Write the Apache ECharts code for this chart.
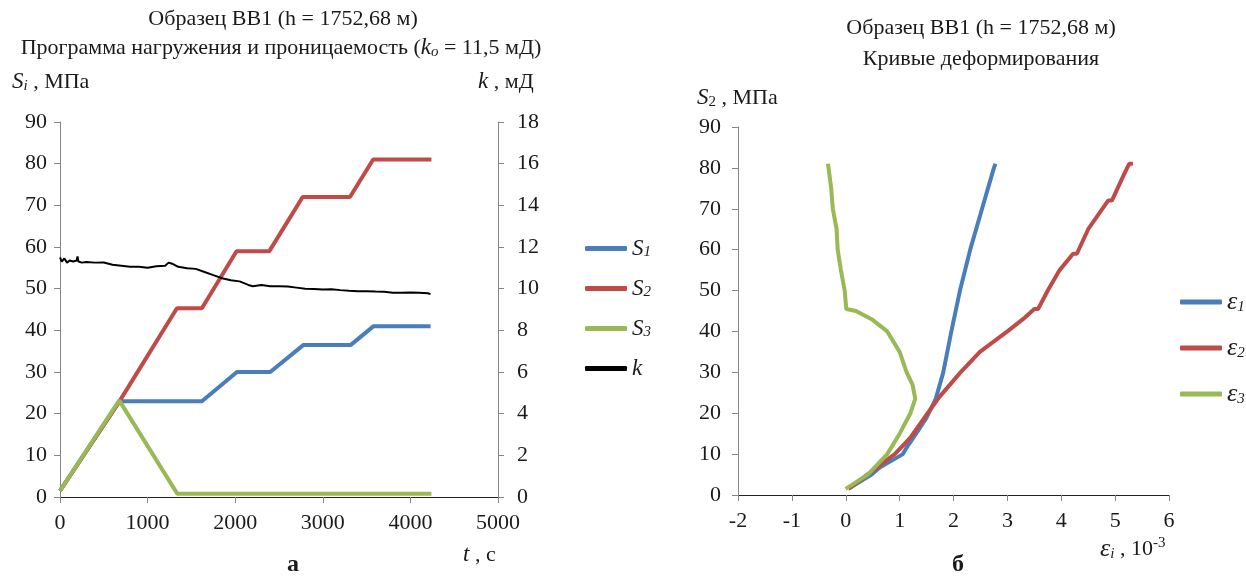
<!DOCTYPE html>
<html><head><meta charset="utf-8">
<script src="https://cdn.jsdelivr.net/npm/echarts@6/dist/echarts.min.js"></script>
<style>html,body{margin:0;padding:0;background:#fff}#c{width:1246px;height:578px}</style>
</head><body><div id="c"></div>
<script>
// ---- Left chart: loading program & permeability ----
const s1Time = [0, 680, 1620, 2020, 2400, 2780, 3320, 3580, 4230];
const s1Value = [1.5, 23, 23, 30, 30, 36.5, 36.5, 41, 41];
const s2Time = [0, 680, 1335, 1620, 2015, 2390, 2770, 3310, 3575, 4240];
const s2Value = [1.5, 23, 45.3, 45.3, 59, 59, 72, 72, 81, 81];
const s3Time = [0, 676, 1338, 4240];
const s3Value = [1.5, 23.2, 0.8, 0.8];
const kTime = [0, 20, 50, 80, 110, 150, 190, 200, 210, 250, 300, 400, 500, 600, 700, 800, 900, 1000, 1100, 1200, 1240, 1280, 1350, 1450, 1550, 1650, 1750, 1850, 1950, 2050, 2150, 2200, 2300, 2400, 2500, 2600, 2700, 2800, 2900, 3000, 3100, 3200, 3300, 3400, 3500, 3600, 3700, 3800, 3900, 4000, 4100, 4200, 4230];
const kValue = [11.5, 11.3, 11.45, 11.25, 11.35, 11.3, 11.35, 11.55, 11.3, 11.25, 11.28, 11.25, 11.26, 11.15, 11.1, 11.05, 11.05, 11.0, 11.08, 11.1, 11.25, 11.2, 11.05, 10.98, 10.95, 10.8, 10.65, 10.5, 10.4, 10.35, 10.18, 10.12, 10.18, 10.12, 10.12, 10.1, 10.05, 10.0, 9.98, 9.96, 9.97, 9.93, 9.9, 9.88, 9.88, 9.86, 9.85, 9.8, 9.8, 9.82, 9.8, 9.78, 9.74];
// ---- Right chart: deformation curves (strain in 1e-3 vs S2 in MPa) ----
const e1Strain = [0.05, 0.19, 0.48, 0.63, 1.06, 1.13, 1.34, 1.5, 1.67, 1.81, 1.96, 2.12, 2.31, 2.53, 2.75, 2.78];
const e1Stress = [1.5, 2.7, 5, 6.7, 10, 11.6, 15.7, 18.9, 23.5, 30, 40, 50, 60, 70, 80, 81];
const e2Strain = [0.05, 0.4, 0.91, 1.2, 1.52, 1.74, 2.13, 2.49, 3.0, 3.29, 3.5, 3.57, 3.75, 3.97, 4.22, 4.29, 4.5, 4.87, 4.94, 5.15, 5.26, 5.33];
const e2Stress = [1.5, 5, 10, 14, 20, 24, 30, 35, 40, 43, 45.5, 45.5, 50, 55, 59, 59, 65, 72, 72, 78, 81, 81];
const e3Strain = [0, 0.41, 0.77, 1.0, 1.2, 1.29, 1.24, 1.13, 1.0, 0.77, 0.48, 0.19, 0.01, -0.02, -0.09, -0.15, -0.17, -0.24, -0.27, -0.33];
const e3Stress = [1.5, 5, 10, 15, 20, 23.5, 27, 30, 35, 40, 43, 45, 45.5, 50, 55, 60, 65, 70, 75, 81];

const zip = (a, b) => a.map((v, i) => [v, b[i]]);
const FONT = 'Liberation Serif';
const TXT = '#1a1a1a';
const AX = '#868686';
const BLUE = '#4a7ebb', RED = '#be4b48', GREEN = '#98b954';

function axis(extra, margin, lineColor) {
  return Object.assign({
    type: 'value',
    axisLine: {show: true, onZero: false, lineStyle: {color: lineColor || AX, width: 1}},
    axisTick: {show: true, inside: false, length: 6, lineStyle: {color: AX}},
    splitLine: {show: false},
    axisLabel: {fontFamily: FONT, fontSize: 22, color: TXT, margin: margin, formatter: v => String(v)}
  }, extra);
}

const richBase = {
  n: {fontFamily: FONT, fontSize: 22, color: TXT},
  it: {fontFamily: FONT, fontSize: 23, fontStyle: 'italic', color: TXT},
  sub: {fontFamily: FONT, fontSize: 15, fontStyle: 'italic', color: TXT, verticalAlign: 'bottom', padding: [9, 0, 0, 0]},
  subn: {fontFamily: FONT, fontSize: 15, color: TXT, verticalAlign: 'bottom', padding: [9, 0, 0, 0]},
  sup: {fontFamily: FONT, fontSize: 15, color: TXT, verticalAlign: 'top', padding: [0, 0, 9, 0]},
  b: {fontFamily: FONT, fontSize: 24, fontWeight: 'bold', color: TXT},
  eps: {fontFamily: FONT, fontSize: 26, fontStyle: 'italic', color: TXT}
};

function txt(x, y, text, align) {
  return {type: 'text', x: x, y: y, style: {text: text, rich: richBase, align: align || 'left', verticalAlign: 'middle', font: '22px ' + FONT, fill: TXT}};
}

const legendNames = {
  S1: '{it|S}{sub|1}', S2: '{it|S}{sub|2}', S3: '{it|S}{sub|3}', k: '{it|k}',
  e1: '{eps|ε}{sub|1}', e2: '{eps|ε}{sub|2}', e3: '{eps|ε}{sub|3}'
};

const chart = echarts.init(document.getElementById('c'), null, {renderer: 'canvas'});
chart.setOption({
  backgroundColor: '#fff',
  animation: false,
  grid: [
    {left: 60, top: 122, width: 438, height: 375},
    {left: 738, top: 127, width: 431, height: 368}
  ],
  xAxis: [
    axis({gridIndex: 0, min: 0, max: 5000, interval: 1000}, 15, '#222'),
    axis({gridIndex: 1, min: -2, max: 6, interval: 1}, 15, '#222')
  ],
  yAxis: [
    axis({gridIndex: 0, min: 0, max: 90, interval: 10}, 13),
    axis({gridIndex: 0, position: 'right', min: 0, max: 18, interval: 2}, 19),
    axis({gridIndex: 1, min: 0, max: 90, interval: 10}, 17)
  ],
  legend: [
    {data: ['S1', 'S2', 'S3', 'k'], orient: 'vertical', left: 580, top: 232, icon: 'roundRect', itemWidth: 42, itemHeight: 5, itemGap: 17,
     formatter: n => legendNames[n], textStyle: {rich: richBase, lineHeight: 22}},
    {data: ['e1', 'e2', 'e3'], orient: 'vertical', left: 1175, top: 284, icon: 'roundRect', itemWidth: 42, itemHeight: 5, itemGap: 20,
     formatter: n => legendNames[n], textStyle: {rich: richBase, lineHeight: 26}}
  ],
  series: [
    {name: 'S1', type: 'line', xAxisIndex: 0, yAxisIndex: 0, data: zip(s1Time, s1Value), symbol: 'none', lineStyle: {color: BLUE, width: 4}, itemStyle: {color: BLUE}},
    {name: 'S2', type: 'line', xAxisIndex: 0, yAxisIndex: 0, data: zip(s2Time, s2Value), symbol: 'none', lineStyle: {color: RED, width: 4}, itemStyle: {color: RED}},
    {name: 'S3', type: 'line', xAxisIndex: 0, yAxisIndex: 0, data: zip(s3Time, s3Value), symbol: 'none', lineStyle: {color: GREEN, width: 4}, itemStyle: {color: GREEN}},
    {name: 'k', type: 'line', xAxisIndex: 0, yAxisIndex: 1, data: zip(kTime, kValue), symbol: 'none', lineStyle: {color: '#000', width: 2}, itemStyle: {color: '#000'}},
    {name: 'e1', type: 'line', xAxisIndex: 1, yAxisIndex: 2, data: zip(e1Strain, e1Stress), symbol: 'none', lineStyle: {color: BLUE, width: 4}, itemStyle: {color: BLUE}},
    {name: 'e2', type: 'line', xAxisIndex: 1, yAxisIndex: 2, data: zip(e2Strain, e2Stress), symbol: 'none', lineStyle: {color: RED, width: 4}, itemStyle: {color: RED}},
    {name: 'e3', type: 'line', xAxisIndex: 1, yAxisIndex: 2, data: zip(e3Strain, e3Stress), symbol: 'none', lineStyle: {color: GREEN, width: 4}, itemStyle: {color: GREEN}}
  ],
  graphic: [
    txt(283, 19, '{n|Образец ВВ1 (h = 1752,68 м)}', 'center'),
    txt(281, 48, '{n|Программа нагружения и проницаемость (}{it|k}{sub|o}{n| = 11,5 мД)}', 'center'),
    txt(12, 82, '{it|S}{sub|i}{n| , МПа}'),
    txt(478, 82, '{it|k}{n| , мД}'),
    txt(463, 555, '{it|t}{n| , с}'),
    txt(293, 565, '{b|а}', 'center'),
    txt(981, 28, '{n|Образец ВВ1 (h = 1752,68 м)}', 'center'),
    txt(981, 59, '{n|Кривые деформирования}', 'center'),
    txt(697, 98, '{it|S}{subn|2}{n| , МПа}'),
    txt(1100, 549, '{eps|ε}{sub|i}{n| , 10}{sup|-3}'),
    txt(958, 565, '{b|б}', 'center')
  ]
});
</script></body></html>
